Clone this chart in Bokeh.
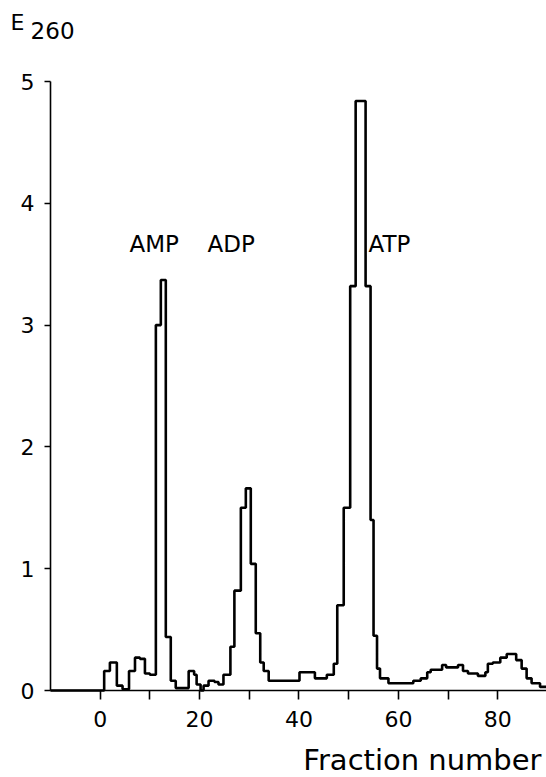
from bokeh.plotting import figure
from bokeh.models import Label, FixedTicker, Range1d
from bokeh.embed import file_html
from bokeh.resources import INLINE

# left edge of each fraction step and the E260 reading of that step
fraction_edges = [-10, 0.8, 1.95, 3.35, 4.5, 5.8, 7.0, 8.0, 9.0, 10.0,
                  11.2, 12.2, 13.2, 14.2, 15.2, 17.8, 18.9, 19.4, 20.2, 20.8,
                  21.8, 23.0, 23.8, 24.8, 26.2, 27.0, 28.3, 29.3, 30.3, 31.3,
                  32.2, 32.9, 33.9, 40.1, 43.2, 45.6, 47.0, 47.7, 49.0, 50.3,
                  51.4, 53.4, 54.4, 55.0, 55.7, 56.3, 58.0, 63.0, 64.5, 65.8,
                  66.5, 68.8, 69.6, 71.0, 72.0, 73.0, 74.0, 76.0, 77.5, 78.0,
                  79.0, 80.5, 81.8, 83.7, 84.8, 85.8, 86.8, 88.5, 90.0]
e260 = [0.0, 0.16, 0.23, 0.04, 0.01, 0.16, 0.27, 0.26, 0.14, 0.13,
        3.0, 3.37, 0.44, 0.08, 0.02, 0.16, 0.13, 0.05, 0.0, 0.04,
        0.08, 0.07, 0.05, 0.13, 0.36, 0.82, 1.50, 1.66, 1.04, 0.47,
        0.23, 0.16, 0.08, 0.15, 0.10, 0.13, 0.22, 0.70, 1.50, 3.32,
        4.84, 3.32, 1.40, 0.45, 0.18, 0.10, 0.06, 0.08, 0.10, 0.15,
        0.17, 0.21, 0.19, 0.19, 0.21, 0.16, 0.14, 0.12, 0.15, 0.22,
        0.23, 0.27, 0.30, 0.25, 0.18, 0.10, 0.06, 0.03, 0.03]

x_ticks = [0, 10, 20, 30, 40, 50, 60, 70, 80]
x_tick_labels = {0: "0", 10: "", 20: "20", 30: "", 40: "40", 50: "", 60: "60", 70: "", 80: "80"}
y_ticks = [0, 1, 2, 3, 4, 5]
peak_names = ["AMP", "ADP", "ATP"]
peak_label_x = [5.9, 21.6, 54.0]
peak_label_y = [3.67, 3.67, 3.67]

FONT = "DejaVu Sans"
X_MIN, X_MAX = -10, 89.8
Y_MIN, Y_MAX = 0, 5

p = figure(width=546, height=777, output_backend="svg", toolbar_location=None,
           x_range=Range1d(-20.06, X_MAX), y_range=Range1d(-0.714, 5.665),
           min_border=0)
p.outline_line_color = None
p.xgrid.visible = False
p.ygrid.visible = False
p.background_fill_color = "white"
p.border_fill_color = "white"

p.step(fraction_edges, e260, mode="after", line_color="black", line_width=2.6)

for ax in (p.xaxis[0], p.yaxis[0]):
    ax.axis_line_color = "black"
    ax.axis_line_width = 1.6
    ax.major_tick_line_color = "black"
    ax.major_tick_line_width = 1.6
    ax.major_tick_in = 0
    ax.minor_tick_line_color = None
    ax.major_label_text_font = FONT
    ax.major_label_text_color = "black"

p.xaxis.fixed_location = Y_MIN
p.xaxis.bounds = (X_MIN, X_MAX)
p.xaxis.ticker = FixedTicker(ticks=x_ticks)
p.xaxis.major_label_overrides = x_tick_labels
p.xaxis.major_tick_out = 9
p.xaxis.major_label_text_font_size = "22px"
p.xaxis.major_label_standoff = 11

p.yaxis.fixed_location = X_MIN
p.yaxis.bounds = (Y_MIN, Y_MAX)
p.yaxis.ticker = FixedTicker(ticks=y_ticks)
p.yaxis.major_tick_out = 6
p.yaxis.major_label_text_font_size = "22px"
p.yaxis.major_label_standoff = 10

for name, lx, ly in zip(peak_names, peak_label_x, peak_label_y):
    p.add_layout(Label(x=lx, y=ly, text=name, text_font=FONT, text_font_size="23px",
                       text_color="black", text_baseline="middle"))

p.add_layout(Label(x=88.8, y=-0.706, text="Fraction number", text_font=FONT,
                   text_font_size="29px", text_color="black", text_align="right",
                   text_baseline="bottom"))
p.add_layout(Label(x=-18.05, y=5.486, text="E", text_font=FONT, text_font_size="22px",
                   text_color="black", text_baseline="alphabetic"))
p.add_layout(Label(x=-14.0, y=5.42, text="260", text_font=FONT, text_font_size="23px",
                   text_color="black", text_baseline="alphabetic"))

open("out.html", "w").write(file_html(p, INLINE))
